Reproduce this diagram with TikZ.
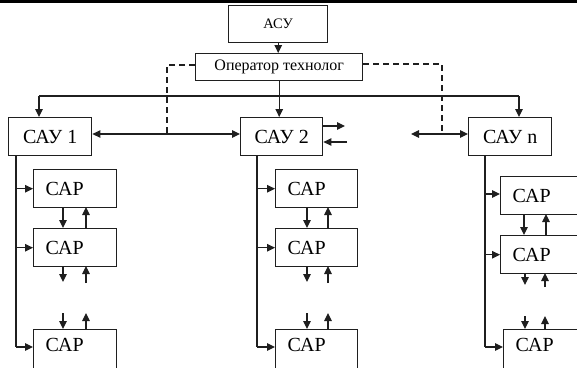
\documentclass[tikz,border=0pt]{standalone}
\usepackage{fontspec}
\setmainfont{Liberation Serif}
\usetikzlibrary{arrows.meta,calc}
\begin{document}
\begin{tikzpicture}[x=1pt,y=-1pt,
  box/.style={draw=black!88, line width=1.4pt, rectangle, inner sep=0pt, anchor=north west},
  saubox/.style={box, minimum height=38pt, font=\fontsize{20}{22}\selectfont},
  capbox/.style={box, minimum height=38pt, text width=#1, inner xsep=12pt, align=left, font=\fontsize{20}{22}\selectfont},
  ln/.style={draw=black!88, line width=1.2pt},
  arr/.style={ln, -{Triangle[length=8pt,width=7.5pt]}},
  arrb/.style={ln, {Triangle[length=8pt,width=7.5pt]}-{Triangle[length=8pt,width=7.5pt]}},
  dsh/.style={draw=black!88, line width=1.2pt, dash pattern=on 6pt off 4pt}
]
\useasboundingbox (0,0) rectangle (577,367);
\clip (0,0) rectangle (577,367);
\fill[black] (0,0) rectangle (577,2.5);

% top
\node[box, minimum width=99pt, minimum height=37pt, font=\fontsize{14.5}{16}\selectfont] (asu) at (228,5) {АСУ};
\node[box, minimum width=167pt, minimum height=27pt, font=\fontsize{16}{18}\selectfont] (op) at (195,53) {Оператор технолог};

% SAU
\node[saubox, minimum width=83pt] (sau1) at (8,117) {САУ 1};
\node[saubox, minimum width=82pt] (sau2) at (240,117) {САУ 2};
\node[saubox, minimum width=83pt] (saun) at (468,117) {САУ n};

% CAP left
\node[capbox=59pt] (l1) at (33,169) {САР};
\node[capbox=59pt] (l2) at (33,228) {САР};
\node[capbox=59pt, minimum height=45pt, text depth=14pt] (l3) at (33,329) {САР};
% CAP middle
\node[capbox=58pt] (m1) at (275,169) {САР};
\node[capbox=58pt] (m2) at (275,228) {САР};
\node[capbox=58pt, minimum height=45pt, text depth=14pt] (m3) at (275,329) {САР};
% CAP right
\node[capbox=66pt] (r1) at (500,176) {САР};
\node[capbox=66pt] (r2) at (500,235) {САР};
\node[capbox=66pt, minimum height=45pt, text depth=14pt] (r3) at (503,329) {САР};

% coordinates
\coordinate (busL) at (39,96);
\coordinate (busR) at (519,96);
\coordinate (dL) at (167,65);
\coordinate (dR) at (442,64);
\coordinate (jL) at (167,134);
\coordinate (jR) at (442,134);
\coordinate (freeL) at (411,134);
\coordinate (o2) at (345,126);
\coordinate (i2) at (347,142);

% top connectors
\draw[arr] (asu.south) -- (asu.south |- op.north);
\draw[ln] (busL) -- (busR);
\draw[arr] (op.south) -- (op.south |- sau2.north);
\draw[arr] (busL) -- (busL |- sau1.north);
\draw[arr] (busR) -- (busR |- saun.north);

% dashed
\draw[dsh] (op.west |- dL) -- (dL) -- (jL);
\draw[dsh] (op.east |- dR) -- (dR) -- (jR);

% horizontal links
\draw[arrb] (sau1.east |- jL) -- (sau2.west |- jL);
\draw[arrb] (freeL) -- (saun.west |- freeL);
\draw[arr] (sau2.east |- o2) -- (o2);
\draw[arr] (i2) -- (sau2.east |- i2);

% vertical feeders
\coordinate (vl) at (16,155);
\coordinate (vm) at (257,155);
\coordinate (vr) at (485,155);
\draw[ln] (vl) -- (vl |- 0,347);
\draw[ln] (vm) -- (vm |- 0,347);
\draw[ln] (vr) -- (vr |- 0,347);
\draw[arr] (vl |- l1.west) -- (l1.west);
\draw[arr] (vl |- l2.west) -- (l2.west);
\draw[arr] (vl |- 0,347) -- (l3.west |- 0,347);
\draw[arr] (vm |- m1.west) -- (m1.west);
\draw[arr] (vm |- m2.west) -- (m2.west);
\draw[arr] (vm |- 0,347) -- (m3.west |- 0,347);
\draw[arr] (vr |- 0,194) -- (r1.west |- 0,194);
\draw[arr] (vr |- r2.west) -- (r2.west);
\draw[arr] (vr |- 0,347) -- (r3.west |- 0,347);

% left column inter-box arrows
\draw[arr] (63,207) -- (63,228);
\draw[arr] (86,228) -- (86,207);
\draw[arr] (63,266) -- (63,282);
\draw[arr] (86,283) -- (86,266);
\draw[arr] (63,313) -- (63,329);
\draw[arr] (86,329) -- (86,313);
% middle column
\draw[arr] (307,207) -- (307,228);
\draw[arr] (328,228) -- (328,207);
\draw[arr] (307,266) -- (307,282);
\draw[arr] (328,283) -- (328,266);
\draw[arr] (307,313) -- (307,329);
\draw[arr] (328,329) -- (328,313);
% right column
\draw[arr] (524,214) -- (524,235);
\draw[arr] (546,235) -- (546,214);
\draw[arr] (525,273) -- (525,285);
\draw[arr] (545,287) -- (545,273);
\draw[arr] (525,316) -- (525,329);
\draw[arr] (545,329) -- (545,316);
\end{tikzpicture}
\end{document}
